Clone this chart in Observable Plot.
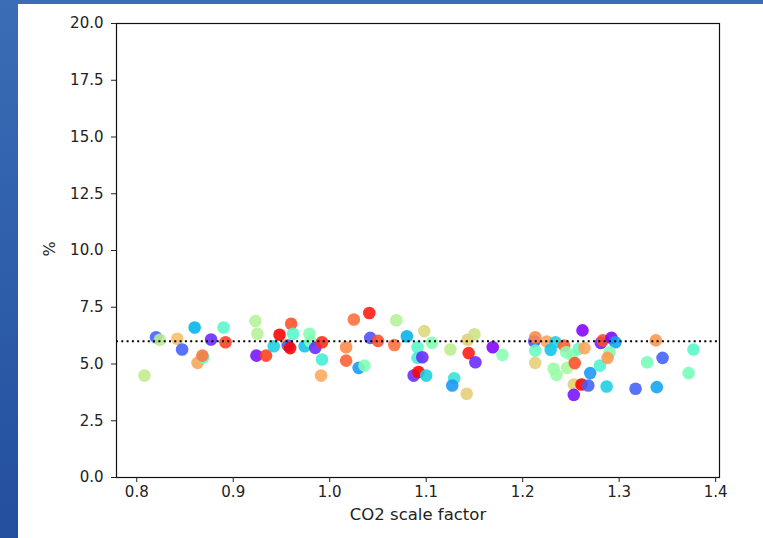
<!DOCTYPE html>
<html>
<head>
<meta charset="utf-8">
<script src="https://cdn.jsdelivr.net/npm/d3@7"></script>
<script src="https://cdn.jsdelivr.net/npm/@observablehq/plot@0.6"></script>
<style>
  html, body { margin: 0; padding: 0; }
  body {
    width: 763px; height: 538px; overflow: hidden; position: relative;
    background: linear-gradient(to bottom, #3a6db6, #234f9e);
  }
  #chart {
    position: absolute; left: 18px; top: 4px; width: 745px; height: 534px;
    background: #fff;
  }
  #chart svg { display: block; }
</style>
</head>
<body>
<div id="chart"></div>
<script>
// CO2 scale factor of each run
const scaleFactor = [
  0.808, 0.820, 0.824, 0.842, 0.847, 0.860, 0.863, 0.869, 0.868, 0.877,
  0.890, 0.892, 0.923, 0.925, 0.924, 0.934, 0.942, 0.948, 0.956, 0.957,
  0.959, 0.960, 0.962, 0.974, 0.979, 0.980, 0.985, 0.992, 0.992, 0.991,
  1.017, 1.017, 1.025, 1.041, 1.030, 1.036, 1.042, 1.050, 1.067, 1.069,
  1.080, 1.091, 1.091, 1.096, 1.087, 1.092, 1.098, 1.100, 1.106, 1.125,
  1.129, 1.127, 1.142, 1.143, 1.150, 1.144, 1.151, 1.169, 1.179, 1.212,
  1.213, 1.213, 1.213, 1.225, 1.229, 1.234, 1.232, 1.235, 1.243, 1.245,
  1.251, 1.246, 1.258, 1.262, 1.264, 1.254, 1.270, 1.280, 1.253, 1.261,
  1.268, 1.253, 1.281, 1.283, 1.292, 1.296, 1.290, 1.288, 1.287, 1.317,
  1.338, 1.329, 1.345, 1.339, 1.377, 1.372
];

// Resulting percentage
const percent = [
  4.49, 6.18, 6.07, 6.11, 5.64, 6.61, 5.05, 5.30, 5.37, 6.08,
  6.61, 5.96, 6.89, 6.33, 5.37, 5.37, 5.78, 6.29, 5.84, 5.80,
  5.70, 6.77, 6.33, 5.78, 6.33, 5.99, 5.71, 5.96, 5.20, 4.49,
  5.74, 5.15, 6.96, 7.25, 4.83, 4.93, 6.15, 6.02, 5.84, 6.93,
  6.22, 5.74, 5.27, 5.30, 4.49, 4.65, 6.45, 4.49, 5.93, 5.64,
  4.37, 4.05, 3.69, 6.07, 6.31, 5.48, 5.08, 5.74, 5.40, 6.00,
  6.18, 5.59, 5.05, 5.99, 5.63, 5.96, 4.79, 4.52, 5.81, 5.52,
  5.37, 4.83, 5.67, 6.48, 5.70, 5.04, 4.60, 4.93, 4.10, 4.10,
  4.05, 3.64, 5.93, 6.04, 6.15, 5.96, 5.52, 5.27, 4.01, 3.91,
  6.04, 5.08, 5.27, 3.98, 5.64, 4.60
];

// Normalised colour value of each run (0 = violet, 1 = red)
const colorValue = [
  0.63, 0.12, 0.62, 0.73, 0.12, 0.25, 0.78, 0.45, 0.85, 0.05,
  0.42, 0.92, 0.60, 0.60, 0.02, 0.92, 0.30, 1.00, 0.80, 0.12,
  1.00, 0.90, 0.42, 0.28, 0.50, 0.50, 0.05, 0.95, 0.38, 0.77,
  0.82, 0.88, 0.86, 0.97, 0.20, 0.50, 0.10, 0.90, 0.86, 0.60,
  0.25, 0.42, 0.38, 0.05, 0.05, 1.00, 0.68, 0.30, 0.50, 0.62,
  0.35, 0.20, 0.70, 0.70, 0.65, 0.97, 0.05, 0.00, 0.52, 0.10,
  0.82, 0.45, 0.70, 0.78, 0.28, 0.30, 0.55, 0.55, 0.88, 0.52,
  0.52, 0.58, 0.45, 0.00, 0.78, 0.90, 0.20, 0.40, 0.70, 1.00,
  0.12, 0.02, 0.03, 0.90, 0.00, 0.22, 0.50, 0.80, 0.30, 0.12,
  0.80, 0.48, 0.12, 0.22, 0.42, 0.48
];

const xTicks = [0.8, 0.9, 1.0, 1.1, 1.2, 1.3, 1.4];
const yTicks = [0, 2.5, 5, 7.5, 10, 12.5, 15, 17.5, 20];
const reference = 6;

const xLabel = "CO2 scale factor";
const yLabel = "%";

const runs = scaleFactor.map((x, i) => ({x, y: percent[i], c: colorValue[i]}));

// matplotlib-style "rainbow" colormap
function rainbow(t) {
  const clip = v => Math.max(0, Math.min(1, v));
  const r = clip(Math.abs(2 * t - 0.5));
  const g = clip(Math.sin(Math.PI * t));
  const b = clip(Math.cos(Math.PI / 2 * t));
  return d3.rgb(r * 255, g * 255, b * 255).formatHex();
}

const font = "DejaVu Sans, sans-serif";
const fmt = d3.format(".1f");

const chart = Plot.plot({
  width: 745,
  height: 534,
  marginLeft: 98,
  marginRight: 44,
  marginTop: 19,
  marginBottom: 61,
  style: {fontFamily: font, fontSize: "15px", color: "#222", background: "#fff"},
  x: {domain: [0.779, 1.404]},
  y: {domain: [0, 20]},
  color: {type: "linear", domain: [0, 1], interpolate: rainbow},
  marks: [
    Plot.dot(runs, {x: "x", y: "y", fill: "c", r: 6.3, fillOpacity: 0.88, stroke: "none"}),
    Plot.ruleY([reference], {stroke: "#000", strokeWidth: 2, strokeDasharray: "2,3.3"}),
    Plot.frame({stroke: "#111", strokeWidth: 1.2}),
    Plot.axisX(xTicks, {
      tickSize: 5, tickPadding: 4, tickFormat: fmt, label: null,
      stroke: "#222", fill: "#222", fontSize: 15
    }),
    Plot.axisY(yTicks, {
      tickSize: 5, tickPadding: 8, tickFormat: fmt, label: null,
      stroke: "#222", fill: "#222", fontSize: 15
    }),
    Plot.text([xLabel], {frameAnchor: "bottom", dy: 42, fontSize: 16.5, fill: "#222"}),
    Plot.text([yLabel], {frameAnchor: "left", dx: -67, dy: 6, rotate: -90, fontSize: 16, fill: "#222"})
  ]
});

document.getElementById("chart").append(chart);
</script>
</body>
</html>
